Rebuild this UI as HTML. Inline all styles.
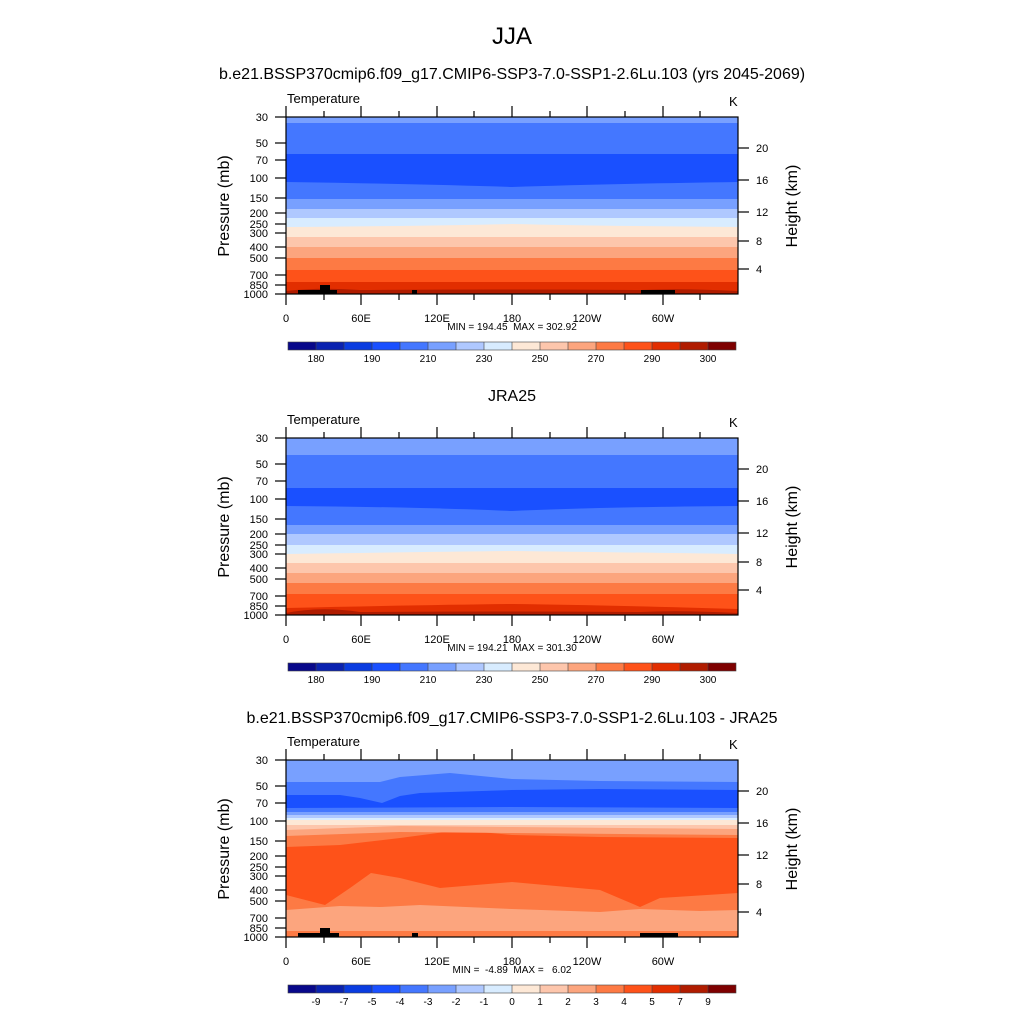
<!DOCTYPE html>
<html><head><meta charset="utf-8"><style>
html,body{margin:0;padding:0;background:#fff;}
svg{display:block;font-family:"Liberation Sans",sans-serif;}
.pre{white-space:pre;}
</style></head><body>
<svg width="1024" height="1024" viewBox="0 0 1024 1024" xmlns="http://www.w3.org/2000/svg">
<defs>
<g id="axes">
  <rect x="286" y="117" width="452" height="177" fill="none" stroke="#000" stroke-width="1.2"/>
  <g stroke="#000" stroke-width="1.2">
    <line x1="286" y1="294" x2="286" y2="305"/><line x1="361" y1="294" x2="361" y2="305"/>
    <line x1="437" y1="294" x2="437" y2="305"/><line x1="512" y1="294" x2="512" y2="305"/>
    <line x1="587" y1="294" x2="587" y2="305"/><line x1="663" y1="294" x2="663" y2="305"/>
    <line x1="324" y1="294" x2="324" y2="300"/><line x1="399" y1="294" x2="399" y2="300"/>
    <line x1="474" y1="294" x2="474" y2="300"/><line x1="550" y1="294" x2="550" y2="300"/>
    <line x1="625" y1="294" x2="625" y2="300"/><line x1="700" y1="294" x2="700" y2="300"/>
    <line x1="286" y1="117" x2="286" y2="106"/><line x1="361" y1="117" x2="361" y2="106"/>
    <line x1="437" y1="117" x2="437" y2="106"/><line x1="512" y1="117" x2="512" y2="106"/>
    <line x1="587" y1="117" x2="587" y2="106"/><line x1="663" y1="117" x2="663" y2="106"/>
    <line x1="324" y1="117" x2="324" y2="111"/><line x1="399" y1="117" x2="399" y2="111"/>
    <line x1="474" y1="117" x2="474" y2="111"/><line x1="550" y1="117" x2="550" y2="111"/>
    <line x1="625" y1="117" x2="625" y2="111"/><line x1="700" y1="117" x2="700" y2="111"/>
    <line x1="275" y1="117" x2="286" y2="117"/><line x1="275" y1="143" x2="286" y2="143"/>
    <line x1="275" y1="160" x2="286" y2="160"/><line x1="275" y1="178" x2="286" y2="178"/>
    <line x1="275" y1="198" x2="286" y2="198"/><line x1="275" y1="213" x2="286" y2="213"/>
    <line x1="275" y1="224" x2="286" y2="224"/><line x1="275" y1="233" x2="286" y2="233"/>
    <line x1="275" y1="247" x2="286" y2="247"/><line x1="275" y1="258" x2="286" y2="258"/>
    <line x1="275" y1="275" x2="286" y2="275"/><line x1="275" y1="285" x2="286" y2="285"/>
    <line x1="275" y1="294" x2="286" y2="294"/>
    <line x1="738" y1="148" x2="749" y2="148"/><line x1="738" y1="180" x2="749" y2="180"/>
    <line x1="738" y1="212" x2="749" y2="212"/><line x1="738" y1="241" x2="749" y2="241"/>
    <line x1="738" y1="269" x2="749" y2="269"/>
  </g>
  <g font-size="11" text-anchor="end">
    <text x="268" y="121">30</text><text x="268" y="147">50</text><text x="268" y="164">70</text>
    <text x="268" y="182">100</text><text x="268" y="202">150</text><text x="268" y="217">200</text>
    <text x="268" y="228">250</text><text x="268" y="237">300</text><text x="268" y="251">400</text>
    <text x="268" y="262">500</text><text x="268" y="279">700</text><text x="268" y="289">850</text>
    <text x="268" y="298">1000</text>
  </g>
  <g font-size="11" text-anchor="middle">
    <text x="286" y="322">0</text><text x="361" y="322">60E</text><text x="437" y="322">120E</text>
    <text x="512" y="322">180</text><text x="587" y="322">120W</text><text x="663" y="322">60W</text>
  </g>
  <g font-size="11"><text x="756" y="152">20</text><text x="756" y="184">16</text>
    <text x="756" y="216">12</text><text x="756" y="245">8</text><text x="756" y="273">4</text></g>
  <text transform="translate(229,206) rotate(-90)" font-size="16" text-anchor="middle">Pressure (mb)</text>
  <text transform="translate(797,206) rotate(-90)" font-size="16" text-anchor="middle">Height (km)</text>
  <text x="287" y="103" font-size="13">Temperature</text>
  <text x="729" y="106" font-size="13">K</text>
</g>
<g id="cbar">
  <rect x="288" y="342" width="28" height="8" fill="#08088a"/><rect x="316" y="342" width="28" height="8" fill="#0a22b0"/>
  <rect x="344" y="342" width="28" height="8" fill="#0a3ce0"/><rect x="372" y="342" width="28" height="8" fill="#1a50ff"/>
  <rect x="400" y="342" width="28" height="8" fill="#4477ff"/><rect x="428" y="342" width="28" height="8" fill="#78a0ff"/>
  <rect x="456" y="342" width="28" height="8" fill="#afc8ff"/><rect x="484" y="342" width="28" height="8" fill="#d8ecff"/>
  <rect x="512" y="342" width="28" height="8" fill="#fde8d6"/><rect x="540" y="342" width="28" height="8" fill="#fdc6ac"/>
  <rect x="568" y="342" width="28" height="8" fill="#fca57e"/><rect x="596" y="342" width="28" height="8" fill="#fd7a44"/>
  <rect x="624" y="342" width="28" height="8" fill="#fe5219"/><rect x="652" y="342" width="28" height="8" fill="#e22e00"/>
  <rect x="680" y="342" width="28" height="8" fill="#b01c00"/><rect x="708" y="342" width="28" height="8" fill="#7e0000"/>
  <g stroke="#444" stroke-width="0.6" fill="none"><rect x="288" y="342" width="448" height="8"/>
  <path d="M316 342v8M344 342v8M372 342v8M400 342v8M428 342v8M456 342v8M484 342v8M512 342v8M540 342v8M568 342v8M596 342v8M624 342v8M652 342v8M680 342v8M708 342v8"/></g>
</g>
</defs>

<text x="512" y="44" font-size="24" text-anchor="middle">JJA</text>
<text x="512" y="79" font-size="16" text-anchor="middle">b.e21.BSSP370cmip6.f09_g17.CMIP6-SSP3-7.0-SSP1-2.6Lu.103 (yrs 2045-2069)</text>

<!-- Panel 1 -->
<g>
  <rect x="286" y="117" width="452" height="177" fill="#e22e00"/>
  <rect x="286" y="117" width="452" height="165" fill="#fe5219"/>
  <rect x="286" y="117" width="452" height="153" fill="#fd7a44"/>
  <rect x="286" y="117" width="452" height="141" fill="#fca57e"/>
  <rect x="286" y="117" width="452" height="130" fill="#fdc6ac"/>
  <rect x="286" y="117" width="452" height="120" fill="#fde8d6"/>
  <path d="M286 117H738V227Q600 226 512 224Q420 226 286 227Z" fill="#d8ecff"/>
  <rect x="286" y="117" width="452" height="101" fill="#afc8ff"/>
  <rect x="286" y="117" width="452" height="92" fill="#78a0ff"/>
  <rect x="286" y="117" width="452" height="82" fill="#4477ff"/>
  <path d="M286 117H738V182Q600 184 512 187Q420 184 286 182Z" fill="#1a50ff"/>
  <rect x="286" y="117" width="452" height="37" fill="#4477ff"/>
  <rect x="286" y="117" width="452" height="6" fill="#78a0ff"/>
  <path d="M286 294V291Q320 287 360 290Q500 289 640 290Q680 288 738 291V294Z" fill="#b01c00"/>
  <g fill="#000"><rect x="298" y="290" width="39" height="4"/><rect x="320" y="285" width="10" height="9"/>
  <rect x="412" y="290" width="5" height="4"/><rect x="641" y="290" width="34" height="4"/></g>
  <use href="#axes"/>
  <text x="512" y="330" font-size="10" text-anchor="middle" class="pre">MIN = 194.45  MAX = 302.92</text>
  <use href="#cbar"/>
  <g font-size="10" text-anchor="middle"><text x="316" y="362">180</text><text x="372" y="362">190</text><text x="428" y="362">210</text><text x="484" y="362">230</text><text x="540" y="362">250</text><text x="596" y="362">270</text><text x="652" y="362">290</text><text x="708" y="362">300</text></g>
</g>

<!-- Panel 2 -->
<text x="512" y="401" font-size="16" text-anchor="middle">JRA25</text>
<g transform="translate(0,321)">
  <rect x="286" y="117" width="452" height="177" fill="#e22e00"/>
  <path d="M286 117H738V288Q600 284 512 283Q420 284 286 287Z" fill="#fe5219"/>
  <rect x="286" y="117" width="452" height="156" fill="#fd7a44"/>
  <rect x="286" y="117" width="452" height="145" fill="#fca57e"/>
  <rect x="286" y="117" width="452" height="135" fill="#fdc6ac"/>
  <rect x="286" y="117" width="452" height="125" fill="#fde8d6"/>
  <path d="M286 117H738V233Q600 231 512 230Q420 231 286 233Z" fill="#d8ecff"/>
  <rect x="286" y="117" width="452" height="107" fill="#afc8ff"/>
  <rect x="286" y="117" width="452" height="96" fill="#78a0ff"/>
  <rect x="286" y="117" width="452" height="87" fill="#4477ff"/>
  <path d="M286 117H738V185Q600 186 512 190Q420 186 286 185Z" fill="#1a50ff"/>
  <rect x="286" y="117" width="452" height="50" fill="#4477ff"/>
  <rect x="286" y="117" width="452" height="17" fill="#78a0ff"/>
  <path d="M286 294V292Q320 285 360 291Q500 290 640 291Q680 289 738 292V294Z" fill="#b01c00"/>
  <use href="#axes"/>
  <text x="512" y="330" font-size="10" text-anchor="middle" class="pre">MIN = 194.21  MAX = 301.30</text>
  <use href="#cbar"/>
  <g font-size="10" text-anchor="middle"><text x="316" y="362">180</text><text x="372" y="362">190</text><text x="428" y="362">210</text><text x="484" y="362">230</text><text x="540" y="362">250</text><text x="596" y="362">270</text><text x="652" y="362">290</text><text x="708" y="362">300</text></g>
</g>

<!-- Panel 3 -->
<text x="512" y="723" font-size="16" text-anchor="middle">b.e21.BSSP370cmip6.f09_g17.CMIP6-SSP3-7.0-SSP1-2.6Lu.103 - JRA25</text>
<g transform="translate(0,643)">
  <rect x="286" y="117" width="452" height="177" fill="#fd7a44"/>
  <rect x="286" y="117" width="452" height="171" fill="#fca57e"/>
  <path d="M286 117H738V267L700 268L640 266L600 269L512 266L420 262L380 264L340 263L286 267Z" fill="#fd7a44"/>
  <path d="M286 117H738V250L660 255L640 264L600 247L512 239L440 245L400 235L371 230L350 245L325 262L286 252Z" fill="#fe5219"/>
  <path d="M286 117H738V195L600 194L512 192L460 187L400 195L340 202L286 204Z" fill="#fd7a44"/>
  <path d="M286 117H738V192L512 190L400 189L286 193Z" fill="#fca57e"/>
  <path d="M286 117H738V186L512 184L400 183L286 187Z" fill="#fdc6ac"/>
  <rect x="286" y="117" width="452" height="65" fill="#fde8d6"/>
  <rect x="286" y="117" width="452" height="60" fill="#d8ecff"/>
  <rect x="286" y="117" width="452" height="58" fill="#afc8ff"/>
  <rect x="286" y="117" width="452" height="55" fill="#78a0ff"/>
  <rect x="286" y="117" width="452" height="52" fill="#4477ff"/>
  <path d="M286 117H738V165L512 164L286 165Z" fill="#1a50ff"/>
  <path d="M286 117H738V147L600 146L512 147L420 150L400 153L382 160L360 155L340 152L286 152Z" fill="#4477ff"/>
  <path d="M286 117H738V139L600 138L512 136L450 130L400 134L380 139L286 139Z" fill="#78a0ff"/>
  <g fill="#000"><rect x="298" y="290" width="41" height="4"/><rect x="320" y="285" width="10" height="9"/>
  <rect x="412" y="290" width="6" height="4"/><rect x="640" y="290" width="38" height="4"/></g>
  <use href="#axes"/>
  <text x="512" y="330" font-size="10" text-anchor="middle" class="pre">MIN =  -4.89  MAX =   6.02</text>
  <use href="#cbar"/>
  <g font-size="10" text-anchor="middle"><text x="316" y="362">-9</text><text x="344" y="362">-7</text><text x="372" y="362">-5</text><text x="400" y="362">-4</text><text x="428" y="362">-3</text><text x="456" y="362">-2</text><text x="484" y="362">-1</text><text x="512" y="362">0</text><text x="540" y="362">1</text><text x="568" y="362">2</text><text x="596" y="362">3</text><text x="624" y="362">4</text><text x="652" y="362">5</text><text x="680" y="362">7</text><text x="708" y="362">9</text></g>
</g>
</svg>
</body></html>
